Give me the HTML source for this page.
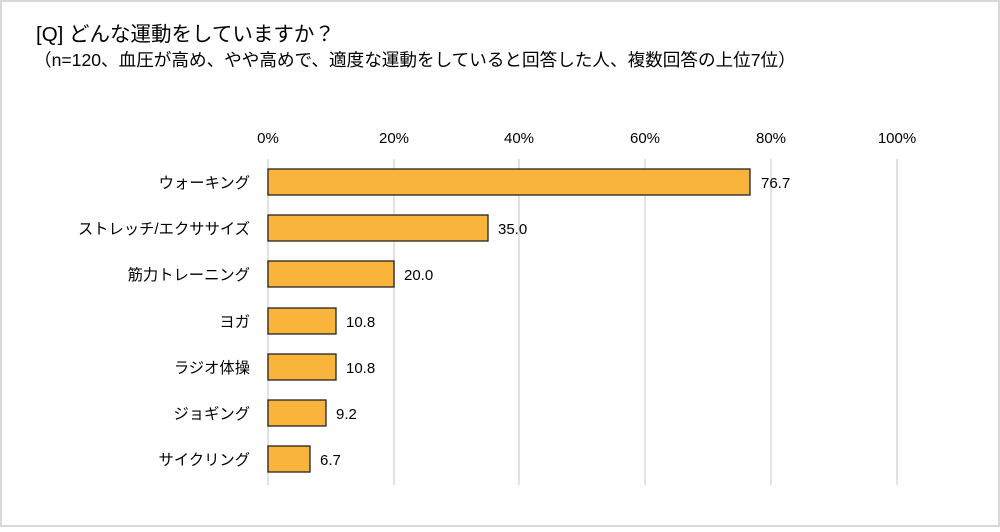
<!DOCTYPE html>
<html><head><meta charset="utf-8"><style>
body{margin:0;background:#fff}
svg text{font-family:"Liberation Sans","Noto Sans CJK JP",sans-serif;fill:#000}
</style></head><body>
<svg width="1000" height="527" xmlns="http://www.w3.org/2000/svg">
<rect x="1" y="1" width="998" height="525" fill="#fff" stroke="#d9d9d9" stroke-width="2"/>
<text x="36" y="41" font-size="20.5">[Q] どんな運動をしていますか？</text>
<text x="34" y="66" font-size="17.6">（n=120、血圧が高め、やや高めで、適度な運動をしていると回答した人、複数回答の上位7位）</text>
<g stroke="#d9d9d9" stroke-width="1.5">
<line x1="268" y1="159" x2="268" y2="485"/><line x1="394" y1="159" x2="394" y2="485"/>
<line x1="519" y1="159" x2="519" y2="485"/><line x1="645" y1="159" x2="645" y2="485"/>
<line x1="771" y1="159" x2="771" y2="485"/><line x1="897" y1="159" x2="897" y2="485"/>
</g>
<g font-size="15" text-anchor="middle">
<text x="268" y="143">0%</text><text x="394" y="143">20%</text><text x="519" y="143">40%</text>
<text x="645" y="143">60%</text><text x="771" y="143">80%</text><text x="897" y="143">100%</text>
</g>
<g fill="#f9b43c" stroke="#222" stroke-width="1.3">
<rect x="268" y="169" width="482" height="26"/>
<rect x="268" y="215" width="220" height="26"/>
<rect x="268" y="261" width="126" height="26"/>
<rect x="268" y="308" width="68" height="26"/>
<rect x="268" y="354" width="68" height="26"/>
<rect x="268" y="400" width="58" height="26"/>
<rect x="268" y="446" width="42" height="26"/>
</g>
<g font-size="15.3" text-anchor="end">
<text x="250" y="188">ウォーキング</text>
<text x="250" y="234">ストレッチ/エクササイズ</text>
<text x="250" y="280">筋力トレーニング</text>
<text x="250" y="327">ヨガ</text>
<text x="250" y="373">ラジオ体操</text>
<text x="250" y="419">ジョギング</text>
<text x="250" y="465">サイクリング</text>
</g>
<g font-size="15">
<text x="761" y="188">76.7</text>
<text x="498" y="234">35.0</text>
<text x="404" y="280">20.0</text>
<text x="346" y="327">10.8</text>
<text x="346" y="373">10.8</text>
<text x="336" y="419">9.2</text>
<text x="320" y="465">6.7</text>
</g>
</svg>
</body></html>
